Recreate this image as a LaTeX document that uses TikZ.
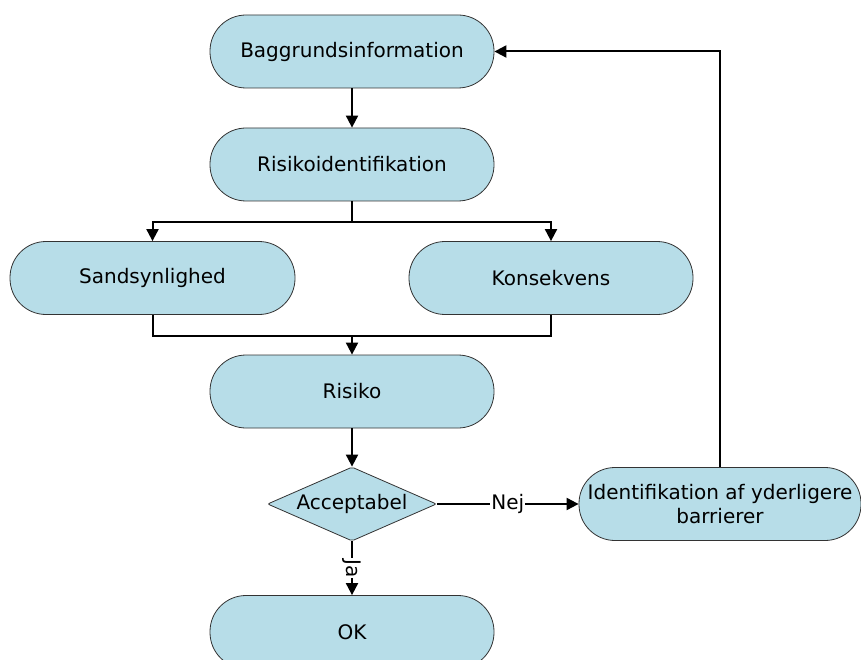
\documentclass[tikz,border=0pt]{standalone}
\usepackage{fontspec}
\setmainfont{DejaVu Sans}
\usetikzlibrary{shapes.geometric,arrows.meta,calc}
\definecolor{boxfill}{HTML}{B7DDE8}
\definecolor{boxline}{HTML}{333333}
\begin{document}
\begin{tikzpicture}[x=1pt,y=-1pt,
  box/.style={draw=boxline, line width=0.8pt, fill=boxfill, rounded corners=36pt,
    minimum width=284pt, minimum height=73pt, inner sep=0pt, align=center,
    font=\fontsize{20}{24}\selectfont},
  decbox/.style={draw=boxline, line width=0.8pt, fill=boxfill, shape=diamond,
    aspect=2.28, minimum width=169pt, minimum height=74pt, inner sep=0pt, rounded corners=2pt,
    font=\fontsize{20}{24}\selectfont},
  conn/.style={line width=2pt, -{Triangle[length=12pt,width=12pt]}},
  plain/.style={line width=2pt},
  lab/.style={fill=white, inner sep=1pt, font=\fontsize{20}{24}\selectfont}]
\useasboundingbox (0,0) rectangle (861,660);
\node[box] (bagg) at (352,51.5) {Baggrundsinformation};
\node[box] (risid) at (352,164.5) {Risikoidentifikation};
\node[box, minimum width=285pt] (sand) at (152.5,278) {Sandsynlighed};
\node[box] (kons) at (551,278) {Konsekvens};
\node[box] (risiko) at (352,391.5) {Risiko};
\node[decbox] (acc) at (352,504) {Acceptabel};
\node[box, minimum width=282pt] (ident) at (720,504) {Identifikation af yderligere\\barrierer};
\node[box] (ok) at (352,632) {OK};
\coordinate (split) at ($(risid.south)+(0,21)$);
\coordinate (merge) at ($(sand.south)+(0,21)$);
\draw[conn] (bagg.south) -- (risid.north);
\draw[plain] (risid.south) -- (split);
\draw[conn] (split) -| (sand.north);
\draw[conn] (split) -| (kons.north);
\draw[plain] (sand.south) |- (merge -| kons.south) -- (kons.south);
\draw[conn] (merge -| risiko.north) -- (risiko.north);
\draw[conn] (risiko.south) -- (acc.north);
\draw[conn] (acc.east) -- node[lab] {Nej} (ident.west);
\draw[conn] (acc.south) -- node[lab, rotate=-90] {Ja} (ok.north);
\draw[conn] (ident.north) |- (bagg.east);
\end{tikzpicture}
\end{document}
